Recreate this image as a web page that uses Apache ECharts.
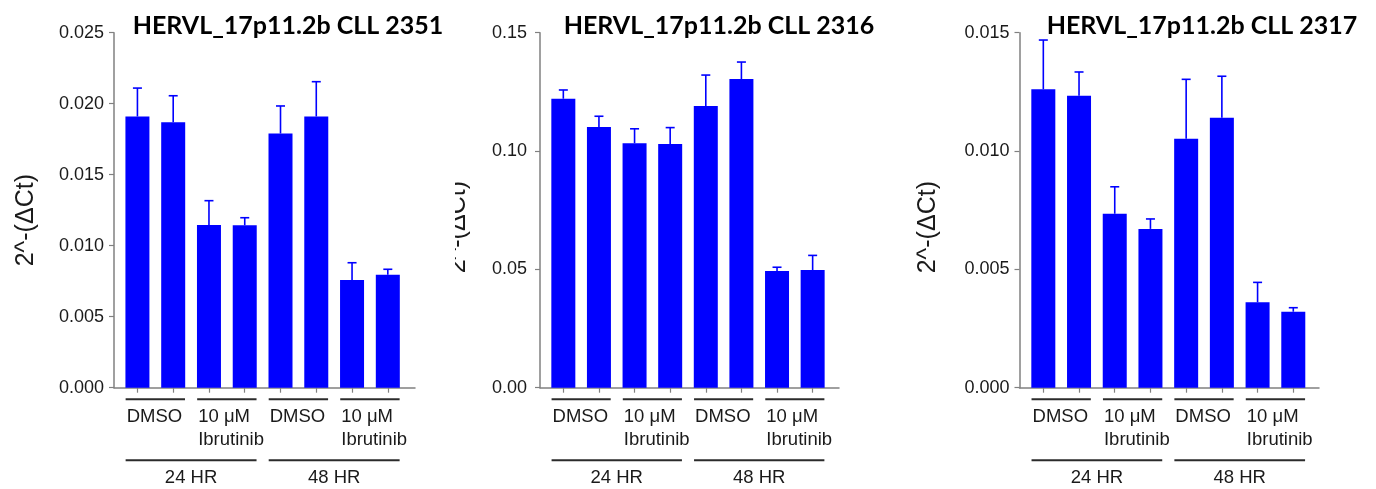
<!DOCTYPE html>
<html><head><meta charset="utf-8">
<script src="https://cdn.jsdelivr.net/npm/echarts@6/dist/echarts.min.js"></script>
<style>html,body{margin:0;padding:0;background:#fff}#c{width:1376px;height:489px}</style>
</head><body><div id="c"></div>
<script>
// ---------- data ----------
const titles = ['HERVL_17p11.2b CLL 2351', 'HERVL_17p11.2b CLL 2316', 'HERVL_17p11.2b CLL 2317'];
const treatmentLabels = ['DMSO', '10 μM\nIbrutinib', 'DMSO', '10 μM\nIbrutinib'];
const timeLabels = ['24 HR', '48 HR'];
const yAxisTitle = '2^-(ΔCt)';

const means2351  = [0.0191, 0.0187, 0.01146, 0.01144, 0.0179, 0.0191, 0.00758, 0.00796];
const errors2351 = [0.0020, 0.00186, 0.00171, 0.00053, 0.00194, 0.00245, 0.00122, 0.00038];
const means2316  = [0.1221, 0.1102, 0.1033, 0.1030, 0.1190, 0.1304, 0.0493, 0.0497];
const errors2316 = [0.0037, 0.0045, 0.0061, 0.0069, 0.0131, 0.0072, 0.0016, 0.0062];
const means2317  = [0.01261, 0.01234, 0.00735, 0.00671, 0.01052, 0.01141, 0.00361, 0.00321];
const errors2317 = [0.00208, 0.00100, 0.00114, 0.00042, 0.00251, 0.00175, 0.00084, 0.00017];

const yMaxes = [0.025, 0.15, 0.015];
const ySteps = [0.005, 0.05, 0.005];
const yDecimals = [3, 2, 3];

const panelMeans = [means2351, means2316, means2317];
const panelErrors = [errors2351, errors2316, errors2317];

// ---------- layout (styles/positions) ----------
const W = 1376;
const layout = [
  {left: 114,    axisEnd: 415,  xMin: -0.655, xMax: 7.76, nameGap: 75,   shift: 20, margin: 10, titleX: 288},
  {left: 540,    axisEnd: 839,  xMin: -0.655, xMax: 7.74, nameGap: 69,   shift: 34, margin: 13, titleX: 719},
  {left: 1019.5, axisEnd: 1319, xMin: -0.667, xMax: 7.72, nameGap: 78.5, shift: 34, margin: 10, titleX: 1202}
];
const GRID_TOP = 32.7, GRID_BOTTOM = 489 - 387.7;
const BLUE = '#0000ff';
const AXIS_GRAY = '#808080';
const TXT = '#1a1a1a';
const FONT = '"Liberation Sans", Arial, sans-serif';

function errRender(params, api) {
  const x = api.value(0), v = api.value(1), e = api.value(2);
  const p0 = api.coord([x, v]), p1 = api.coord([x, v + e]);
  const st = {stroke: BLUE, lineWidth: 1.6};
  return {type: 'group', children: [
    {type: 'line', shape: {x1: p0[0], y1: p0[1], x2: p1[0], y2: p1[1]}, style: st},
    {type: 'line', shape: {x1: p1[0] - 4.5, y1: p1[1], x2: p1[0] + 4.5, y2: p1[1]}, style: st}
  ]};
}

function bracketRender(params, api) {
  const s = api.value(0), e = api.value(2), row = api.value(3), idx = api.value(4);
  const unit = api.size([1, 0])[0];
  const a = api.coord([s, 0]), b = api.coord([e, 0]);
  const x1 = a[0] - 0.33 * unit, x2 = b[0] + 0.33 * unit;
  const y = a[1] + (row === 0 ? 11.5 : 72.5);
  const line = {type: 'line', shape: {x1: x1, y1: y, x2: x2, y2: y}, style: {stroke: '#2b2b2b', lineWidth: 2}};
  let text;
  if (row === 0) {
    text = {type: 'text', x: x1 + 1, y: y + 6, style: {
      text: treatmentLabels[idx], fill: TXT, font: '18.5px ' + FONT,
      align: 'left', textAlign: 'left', verticalAlign: 'top', textVerticalAlign: 'top', lineHeight: 23}};
  } else {
    text = {type: 'text', x: (x1 + x2) / 2, y: y + 17.5, style: {
      text: timeLabels[idx], fill: TXT, font: '18.5px ' + FONT,
      align: 'center', textAlign: 'center', verticalAlign: 'middle', textVerticalAlign: 'middle'}};
  }
  return {type: 'group', children: [line, text]};
}

const bracketData = [];
treatmentLabels.forEach((t, g) => bracketData.push([2 * g, 0, 2 * g + 1, 0, g]));
timeLabels.forEach((t, k) => bracketData.push([4 * k, 0, 4 * k + 3, 1, k]));

const option = {
  animation: false,
  backgroundColor: '#fff',
  title: [],
  grid: [],
  xAxis: [],
  yAxis: [],
  series: [],
  graphic: [{type: 'rect', left: 436, top: 160, shape: {width: 19, height: 130}, style: {fill: '#fff'}, z: 100}]
};

layout.forEach((L, k) => {
  option.title.push({
    text: titles[k], left: L.titleX, top: 13, textAlign: 'center', padding: 0,
    textStyle: {fontFamily: 'Lato, "Open Sans", sans-serif', fontWeight: 'bold', fontSize: 25, color: '#000'}
  });
  option.grid.push({left: L.left, right: W - L.axisEnd, top: GRID_TOP, bottom: GRID_BOTTOM, containLabel: false});
  option.xAxis.push({
    type: 'value', gridIndex: k, min: L.xMin, max: L.xMax,
    axisLine: {show: true, onZero: false, lineStyle: {color: AXIS_GRAY, width: 1.5}},
    axisTick: {show: true, customValues: [0, 1, 2, 3, 4, 5, 6, 7], length: 5, lineStyle: {color: AXIS_GRAY, width: 1.2}},
    axisLabel: {show: false},
    splitLine: {show: false}
  });
  option.yAxis.push({
    type: 'value', gridIndex: k, min: 0, max: yMaxes[k], interval: ySteps[k],
    name: yAxisTitle, nameLocation: 'middle', nameRotate: 90, nameGap: L.nameGap,
    nameTextStyle: {fontFamily: FONT, fontSize: 25, color: TXT, padding: [0, L.shift, 0, 0]},
    axisLine: {show: true, onZero: false, lineStyle: {color: AXIS_GRAY, width: 1.5}},
    axisTick: {show: true, length: 5, lineStyle: {color: AXIS_GRAY, width: 1.2}},
    axisLabel: {fontFamily: FONT, fontSize: 18, color: TXT, margin: L.margin,
      formatter: v => v.toFixed(yDecimals[k])},
    splitLine: {show: false}
  });
  option.series.push({
    type: 'bar', xAxisIndex: k, yAxisIndex: k, barWidth: 24,
    itemStyle: {color: BLUE},
    data: panelMeans[k].map((v, i) => [i, v]), z: 2
  });
  option.series.push({
    type: 'custom', xAxisIndex: k, yAxisIndex: k, renderItem: errRender,
    encode: {x: 0, y: 1}, z: 3,
    data: panelMeans[k].map((v, i) => [i, v, panelErrors[k][i]])
  });
  option.series.push({
    type: 'custom', xAxisIndex: k, yAxisIndex: k, renderItem: bracketRender, clip: false,
    encode: {x: 0, y: 1}, z: 3, silent: true,
    data: bracketData
  });
});

const chart = echarts.init(document.getElementById('c'), null, {renderer: 'canvas'});
chart.setOption(option);
</script>
</body></html>
